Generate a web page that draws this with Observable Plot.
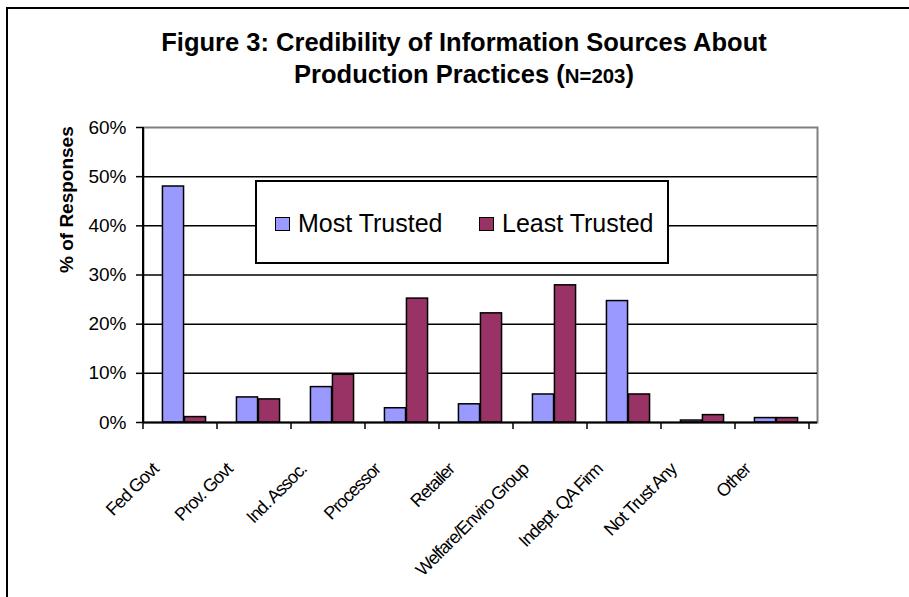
<!DOCTYPE html>
<html><head><meta charset="utf-8">
<script src="https://cdn.jsdelivr.net/npm/d3@7"></script>
<script src="https://cdn.jsdelivr.net/npm/@observablehq/plot@0.6"></script>
<style>
html,body{margin:0;padding:0;background:#fff;overflow:hidden;}
#page{position:relative;width:909px;height:597px;overflow:hidden;font-family:"Liberation Sans",Arial,sans-serif;color:#000;}
#border{position:absolute;left:6px;top:7px;width:1000px;height:800px;border:2px solid #000;box-sizing:border-box;pointer-events:none;}
#title{height:100px;box-sizing:border-box;padding-top:26px;padding-left:19px;text-align:center;font-weight:bold;font-size:25.5px;line-height:32px;}
#title .n{font-size:0.8em;}
#legend{position:absolute;left:255px;top:180px;width:414px;height:84px;box-sizing:border-box;border:2px solid #000;background:#fff;}
.sw{position:absolute;width:15px;height:14px;box-sizing:border-box;border:1.5px solid #000;}
.lt{position:absolute;font-size:25px;line-height:25px;white-space:nowrap;}
svg{display:block;}
</style></head>
<body>
<div id="page">
  <div id="title">Figure 3: Credibility of Information Sources About<br>Production Practices (<span class="n">N=203</span>)</div>
  <div id="chart"></div>
  <div id="legend"></div>
  <div id="border"></div>
</div>
<script>
const categories = ["Fed Govt","Prov. Govt","Ind. Assoc.","Processor","Retailer","Welfare/Enviro Group","Indept. QA Firm","Not Trust Any","Other"];
const series = ["Most Trusted","Least Trusted"];
const seriesColors = ["#9999FF","#993366"];
const mostTrusted  = [0.480,0.051,0.072,0.029,0.037,0.057,0.247,0.004,0.009];
const leastTrusted = [0.011,0.047,0.097,0.252,0.222,0.279,0.057,0.015,0.009];
const yTicks = [0,0.1,0.2,0.3,0.4,0.5,0.6];
const yTickLabels = ["0%","10%","20%","30%","40%","50%","60%"];
const yTitle = "% of Responses";

const rows = categories.flatMap((c,i)=>[
  {cat:c, series:series[0], value:mostTrusted[i]},
  {cat:c, series:series[1], value:leastTrusted[i]}
]);

const W=909, H=497, mL=143, mR=92, mT=27, mB=175;
const step=(W-mL-mR)/categories.length;
const barW=22;

const chart = Plot.plot({
  width:W, height:H, marginLeft:mL, marginRight:mR, marginTop:mT, marginBottom:mB,
  style:{fontFamily:"'Liberation Sans', Arial, sans-serif", background:"transparent", color:"#000", overflow:"visible"},
  x:{type:"band", domain:categories, padding:0, axis:null},
  y:{domain:[0,0.6], axis:null},
  color:{domain:series, range:seriesColors},
  marks:[
    Plot.frame({stroke:"#808080", strokeWidth:2}),
    Plot.ruleY(yTicks.slice(1,-1), {stroke:"#000", strokeWidth:1.5}),
    Plot.axisY({ticks:yTicks, label:null, tickSize:7, tickPadding:10, fontSize:19, strokeWidth:1.5,
      tickFormat:d=>yTickLabels[yTicks.indexOf(d)]}),
    Plot.barY(rows.filter(d=>d.series===series[0]), {x:"cat", y:"value", fill:"series", stroke:"#000", strokeWidth:1.5,
      insetLeft:step/2-barW, insetRight:step/2}),
    Plot.barY(rows.filter(d=>d.series===series[1]), {x:"cat", y:"value", fill:"series", stroke:"#000", strokeWidth:1.5,
      insetLeft:step/2, insetRight:step/2-barW}),
    Plot.ruleY([0], {stroke:"#000", strokeWidth:2}),
    Plot.text(categories, {x:d=>d, frameAnchor:"bottom", rotate:-45, textAnchor:"end", lineAnchor:"bottom",
      dx:-25, dy:48, fontSize:18, fill:"#000"}),
    Plot.text([yTitle], {frameAnchor:"left", rotate:-90, dx:-77, dy:-2, fontSize:19, fontWeight:"bold", fill:"#000"})
  ]
});
document.getElementById("chart").appendChild(chart);

// condensed category labels
d3.select(chart).selectAll("text")
  .filter(function(){ return categories.includes(this.textContent); })
  .style("letter-spacing","-1.1px");

// left axis line and category-boundary ticks from the library's scales
const sx = chart.scale("x"), sy = chart.scale("y");
const x0 = sx.range[0], xs = sx.step;
const yb = sy.apply(0), yt = sy.apply(0.6);
const g = d3.select(chart).append("g").attr("stroke","#000");
g.append("line").attr("x1",x0).attr("x2",x0).attr("y1",yt).attr("y2",yb+1).attr("stroke-width",2);
d3.range(categories.length+1).forEach(i=>{
  const x = x0 + i*xs;
  g.append("line").attr("x1",x).attr("x2",x).attr("y1",yb).attr("y2",yb+7).attr("stroke-width",1.5);
});

// legend
const leg = document.getElementById("legend");
const legPos = [{sw:18, tx:41},{sw:222, tx:245}];
series.forEach((s,i)=>{
  const sw = document.createElement("div");
  sw.className="sw"; sw.style.left=legPos[i].sw+"px"; sw.style.top="35px"; sw.style.background=seriesColors[i];
  leg.appendChild(sw);
  const t = document.createElement("div");
  t.className="lt"; t.style.left=legPos[i].tx+"px"; t.style.top="29px"; t.textContent=s;
  leg.appendChild(t);
});
</script>
</body></html>
